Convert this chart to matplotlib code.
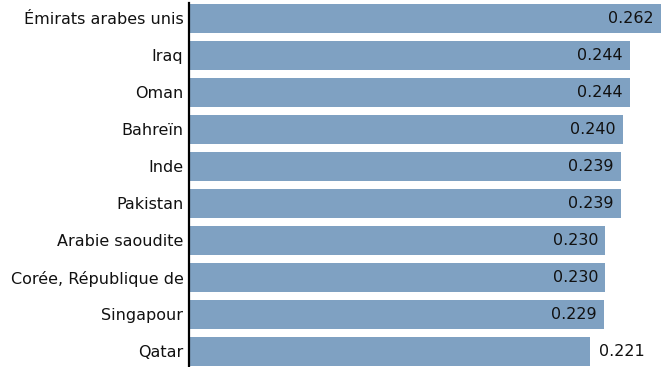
import matplotlib
matplotlib.use("Agg")
import matplotlib.pyplot as plt

countries = [
    "Émirats arabes unis", "Iraq", "Oman", "Bahreïn", "Inde",
    "Pakistan", "Arabie saoudite", "Corée, République de", "Singapour", "Qatar",
]
values = [0.262, 0.244, 0.244, 0.240, 0.239, 0.239, 0.230, 0.230, 0.229, 0.221]

BAR_COLOR = "#7fa1c2"
TEXT_COLOR = "#111111"
FONT_SIZE = 11.5
X_START = -0.0092
X_END = 0.2626
INSIDE_MIN = 0.225

plt.rcParams["font.family"] = ["DejaVu Sans"]

fig = plt.figure(figsize=(6.62, 3.67), dpi=100)
ax = fig.add_axes([189 / 662, 0, 1 - 189 / 662, 1])

pos = list(range(len(countries)))
ax.barh(pos, [v - X_START for v in values], left=X_START, height=0.784,
        color=BAR_COLOR, edgecolor="none", zorder=1)

for y, v in zip(pos, values):
    if v >= INSIDE_MIN:
        ax.annotate(f"{v:.3f}", xy=(v, y), xytext=(-5, 0), textcoords="offset points",
                    ha="right", va="center", fontsize=FONT_SIZE, color=TEXT_COLOR)
    else:
        ax.annotate(f"{v:.3f}", xy=(v, y), xytext=(6.5, 0), textcoords="offset points",
                    ha="left", va="center", fontsize=FONT_SIZE, color=TEXT_COLOR)

ax.set_xlim(X_START, X_END)
ax.set_ylim(-0.5 + 367 / 37, -0.5)
ax.set_yticks(pos)
ax.set_yticklabels(countries, fontsize=FONT_SIZE, color=TEXT_COLOR)
ax.tick_params(axis="y", length=0, pad=4)
ax.set_xticks([])

for side in ["top", "right", "bottom"]:
    ax.spines[side].set_visible(False)
ax.spines["left"].set_linewidth(1.6)
ax.spines["left"].set_color("black")
ax.spines["left"].set_bounds(-0.41, -0.5 + 367 / 37)
ax.spines["left"].set_zorder(3)

fig.savefig("out.png", dpi=100)
